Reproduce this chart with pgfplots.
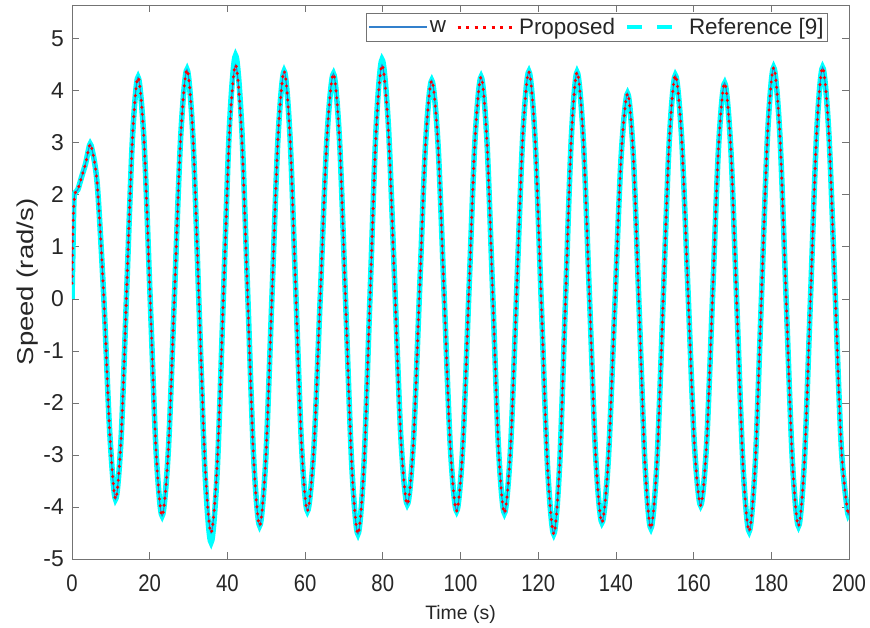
\documentclass[border=0pt]{standalone}
\usepackage{fontspec}
\setmainfont{Liberation Sans}
\usepackage{graphicx}
\usepackage{pgfplots}
\usepackage{pgfplotstable}
\pgfplotsset{compat=1.18}
\definecolor{mblue}{rgb}{0.2,0.5,0.8}
\definecolor{mcyan}{rgb}{0,1,1}
\definecolor{mred}{rgb}{1,0,0}
\definecolor{axgray}{rgb}{0.45,0.45,0.45}

\pgfplotstableread{
t v
0 0.30
0.3 1.50
0.7 2.00
1.5 2.10
2.5 2.35
3.5 2.60
4.2 2.85
4.9 2.95
6.5 2.20
8.2 0.00
9.7 -2.55
11.2 -3.85
12.65 -2.66
14.1 0.21
15.55 3.07
17.0 4.26
18.55 3.03
20.1 0.05
21.65 -2.94
23.2 -4.17
24.8 -2.91
26.4 0.12
28.0 3.15
29.6 4.41
31.15 3.11
32.7 -0.05
34.25 -3.20
35.8 -4.50
37.375 -3.18
38.95 0.00
40.525 3.18
42.1 4.50
43.65 3.20
45.2 0.07
46.75 -3.06
48.3 -4.36
49.875 -3.08
51.45 0.01
53.025 3.10
54.6 4.38
56.1 3.14
57.6 0.15
59.1 -2.84
60.6 -4.08
62.275 -2.85
63.95 0.13
65.625 3.10
67.3 4.33
68.875 3.03
70.45 -0.10
72.025 -3.22
73.6 -4.52
75.15 -3.20
76.7 -0.01
78.25 3.18
79.8 4.50
81.425 3.26
83.05 0.28
84.675 -2.71
86.3 -3.95
87.875 -2.76
89.45 0.13
91.025 3.01
92.6 4.20
94.2 2.99
95.8 0.06
97.4 -2.87
99.0 -4.08
100.575 -2.86
102.15 0.10
103.725 3.05
105.3 4.27
106.8 3.04
108.3 0.08
109.8 -2.89
111.3 -4.12
112.875 -2.88
114.45 0.13
116.025 3.13
117.6 4.37
119.2 3.07
120.8 -0.08
122.4 -3.22
124.0 -4.52
125.5 -3.22
127.0 -0.08
128.5 3.06
130.0 4.36
131.6 3.09
133.2 0.03
134.8 -3.03
136.4 -4.30
138.05 -3.09
139.7 -0.18
141.35 2.74
143.0 3.95
144.5 2.73
146.0 -0.23
147.5 -3.19
149.0 -4.41
150.575 -3.13
152.15 -0.06
153.725 3.02
155.3 4.30
156.925 3.09
158.55 0.17
160.175 -2.76
161.8 -3.97
163.35 -2.78
164.9 0.09
166.45 2.96
168.0 4.15
169.575 2.89
171.15 -0.16
172.725 -3.21
174.3 -4.47
175.875 -3.16
177.45 -0.01
179.025 3.14
180.6 4.45
182.2 3.16
183.8 0.04
185.4 -3.08
187.0 -4.37
188.55 -3.08
190.1 0.04
191.65 3.16
193.2 4.45
194.8 3.20
196.4 0.19
198.0 -2.83
199.6 -4.08
200 -4.05
}\wdata

\pgfplotstableread{
t v
0 0.00
0.2 0.80
0.5 1.90
0.9 2.05
1.5 2.10
2.5 2.35
3.5 2.60
4.2 2.85
4.9 2.95
6.5 2.20
8.2 0.00
9.7 -2.55
11.2 -3.85
12.65 -2.66
14.1 0.21
15.55 3.07
17.0 4.26
18.55 3.03
20.1 0.05
21.65 -2.94
23.2 -4.17
24.8 -2.91
26.4 0.12
28.0 3.15
29.6 4.41
31.15 3.08
32.7 -0.14
34.25 -3.35
35.8 -4.68
37.375 -3.31
38.95 0.00
40.525 3.31
42.1 4.68
43.65 3.36
45.2 0.16
46.75 -3.04
48.3 -4.36
49.875 -3.08
51.45 0.01
53.025 3.10
54.6 4.38
56.1 3.14
57.6 0.15
59.1 -2.84
60.6 -4.08
62.275 -2.85
63.95 0.13
65.625 3.10
67.3 4.33
68.875 3.03
70.45 -0.10
72.025 -3.22
73.6 -4.52
75.15 -3.18
76.7 0.04
78.25 3.26
79.8 4.60
81.425 3.35
83.05 0.33
84.675 -2.70
86.3 -3.95
87.875 -2.76
89.45 0.13
91.025 3.01
92.6 4.20
94.2 2.99
95.8 0.06
97.4 -2.87
99.0 -4.08
100.575 -2.86
102.15 0.10
103.725 3.05
105.3 4.27
106.8 3.04
108.3 0.08
109.8 -2.89
111.3 -4.12
112.875 -2.88
114.45 0.13
116.025 3.13
117.6 4.37
119.2 3.07
120.8 -0.08
122.4 -3.22
124.0 -4.52
125.5 -3.22
127.0 -0.08
128.5 3.06
130.0 4.36
131.6 3.09
133.2 0.03
134.8 -3.03
136.4 -4.30
138.05 -3.09
139.7 -0.18
141.35 2.74
143.0 3.95
144.5 2.73
146.0 -0.23
147.5 -3.19
149.0 -4.41
150.575 -3.13
152.15 -0.06
153.725 3.02
155.3 4.30
156.925 3.09
158.55 0.17
160.175 -2.76
161.8 -3.97
163.35 -2.78
164.9 0.09
166.45 2.96
168.0 4.15
169.575 2.89
171.15 -0.16
172.725 -3.21
174.3 -4.47
175.875 -3.16
177.45 -0.01
179.025 3.14
180.6 4.45
182.2 3.16
183.8 0.04
185.4 -3.08
187.0 -4.37
188.55 -3.08
190.1 0.04
191.65 3.16
193.2 4.45
194.8 3.20
196.4 0.19
198.0 -2.83
199.6 -4.08
200 -4.05
}\refdata

\begin{document}
\begin{tikzpicture}
\begin{axis}[
  scale only axis,
  width=777bp, height=554bp,
  xmin=0, xmax=200, ymin=-5, ymax=5.65,
  xtick={0,20,...,200},
  ytick={-5,-4,...,5},
  /pgf/number format/assume math mode=true,
  axis line style={draw=axgray, line width=0.9bp},
  tick style={draw=axgray, line width=0.8bp},
  tick align=inside,
  major tick length=7bp,
  xtick pos=both, ytick pos=both,
  xticklabel={\scalebox{0.85}[1]{\pgfmathprintnumber{\tick}}},
  xticklabel style={font=\fontsize{24}{28}\selectfont, inner sep=0pt, yshift=-16bp, text=black!85},
  yticklabel style={font=\fontsize{23}{27}\selectfont, inner sep=0pt, xshift=-8bp, text=black!85},
  xlabel={Time (s)},
  xlabel style={font=\fontsize{19.5}{23}\selectfont, at={(axis description cs:0.5,0)}, anchor=north, inner sep=0pt, yshift=-46bp, text=black!85},
  ylabel={\scalebox{1.2}[1]{Speed (rad/s)}},
  ylabel style={font=\fontsize{23}{27}\selectfont, at={(axis description cs:-0.0438,0.5)}, anchor=south, inner sep=0pt, text=black!85},
  legend columns=3,
  legend cell align=left,
  legend image code/.code={\draw[#1] (0bp,0bp) -- (58bp,0bp);},
  legend style={at={(1,1)}, anchor=north east, xshift=-21bp, yshift=-8bp,
    draw=axgray, line width=0.8bp, inner xsep=2bp, inner ysep=2bp,
    font=\fontsize{22.5}{26}\selectfont,
    nodes={inner xsep=2bp, inner ysep=3bp, text=black!85},
    /tikz/every even column/.append style={column sep=8bp}},
]
\addlegendimage{mblue, line width=1.8bp}
\addlegendentry{w}
\addlegendimage{mred, line width=3bp, dash pattern=on 3bp off 5.5bp}
\addlegendentry{Proposed}
\addlegendimage{mcyan, line width=4bp, dash pattern=on 15bp off 15bp}
\addlegendentry{Reference [9]}

\addplot[mcyan, line width=5.5bp, smooth, forget plot] table[x=t, y=v] {\refdata};
\addplot[mblue, line width=1.1bp, smooth, forget plot] table[x=t, y=v] {\wdata};
\addplot[mred, line width=3.4bp, line cap=round, dash pattern=on 0bp off 7bp, smooth, forget plot] table[x=t, y=v] {\wdata};
\end{axis}
\path ([xshift=-72bp,yshift=-69bp]current axis.south west) rectangle ([xshift=21bp,yshift=5bp]current axis.north east);
\end{tikzpicture}
\end{document}
